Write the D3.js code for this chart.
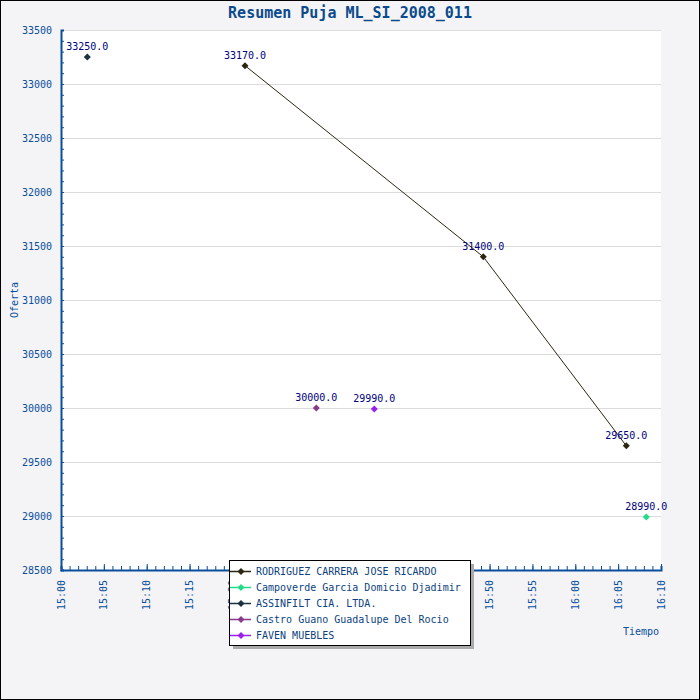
<!DOCTYPE html>
<html>
<head>
<meta charset="utf-8">
<script src="https://cdn.jsdelivr.net/npm/d3@7"></script>
<style>
html,body{margin:0;padding:0;background:#fff;}
svg{display:block;}
text{font-family:"DejaVu Sans Mono",monospace;}
</style>
</head>
<body>
<script>
// ---- data ----
const seriesNames = [
  "RODRIGUEZ CARRERA JOSE RICARDO",
  "Campoverde Garcia Domicio Djadimir",
  "ASSINFILT CIA. LTDA.",
  "Castro Guano Guadalupe Del Rocio",
  "FAVEN MUEBLES"
];
const seriesColors = ["#2b2610", "#22dd88", "#1b3340", "#8b3a8b", "#9b20f0"];
const rodriguezTimes = ["15:21:28", "15:49:16", "16:05:57"];
const rodriguezValues = [33170, 31400, 29650];
const campoverdeTimes = ["16:08:17"];
const campoverdeValues = [28990];
const assinfiltTimes = ["15:03:04"];
const assinfiltValues = [33250];
const castroTimes = ["15:29:47"];
const castroValues = [30000];
const favenTimes = ["15:36:33"];
const favenValues = [29990];
const xDomain = ["15:00:00", "16:10:00"];
const yDomain = [28500, 33500];
const title = "Resumen Puja ML_SI_2008_011";
const xTitle = "Tiempo";
const yTitle = "Oferta";

const parse = s => { const [h,m,sec] = s.split(":").map(Number); return new Date(Date.UTC(2008,0,1,h,m,sec)); };
const series = [
  {times: rodriguezTimes, values: rodriguezValues, line: true},
  {times: campoverdeTimes, values: campoverdeValues, line: false},
  {times: assinfiltTimes, values: assinfiltValues, line: false},
  {times: castroTimes, values: castroValues, line: false},
  {times: favenTimes, values: favenValues, line: false}
].map((s,i) => ({name: seriesNames[i], color: seriesColors[i], line: s.line,
  points: s.times.map((t,j) => ({t: parse(t), v: s.values[j]}))}));

// ---- layout ----
const W = 700, H = 700;
const L = 61, R = 661, T = 30, B = 570;
const axisColor = "#0a4f9c";

const svg = d3.select("body").append("svg").attr("width", W).attr("height", H);
svg.append("rect").attr("x",0.5).attr("y",0.5).attr("width",W-1).attr("height",H-1)
  .attr("fill","#f4f4f6").attr("stroke","#000");
svg.append("rect").attr("x",L).attr("y",T).attr("width",R-L).attr("height",B-T).attr("fill","#fff");

const x = d3.scaleUtc().domain(xDomain.map(parse)).range([L, R]);
const y = d3.scaleLinear().domain(yDomain).range([B, T]);

// gridlines
svg.append("g").selectAll("line").data(d3.range(29000, 33501, 500)).join("line")
  .attr("x1", L).attr("x2", R).attr("y1", d => y(d)+0.5).attr("y2", d => y(d)+0.5)
  .attr("stroke", "#dcdcdc").attr("stroke-width", 1);

// y axis
const yAxis = d3.axisRight(y).tickValues(d3.range(28500, 33501, 100)).tickSize(3).tickFormat("");
const gy = svg.append("g").attr("transform", `translate(${L},0)`).call(yAxis);
gy.selectAll("line").attr("stroke", axisColor);
gy.select(".domain").attr("stroke", axisColor).attr("stroke-width", 2);
const yLab = d3.axisLeft(y).tickValues(d3.range(28500, 33501, 500)).tickSize(0).tickPadding(9).tickFormat(d3.format("d"));
const gyl = svg.append("g").attr("transform", `translate(${L},0)`).call(yLab);
gyl.select(".domain").remove();
gyl.selectAll("text").attr("fill", axisColor).style("font-size","10px").style("font-family","'DejaVu Sans Mono',monospace");

// x axis
const minor = d3.utcMinute.every(1).range(x.domain()[0], new Date(+x.domain()[1]+1));
const xAxisMinor = d3.axisTop(x).tickValues(minor).tickSize(4).tickFormat("");
const gx = svg.append("g").attr("transform", `translate(0,${B})`).call(xAxisMinor);
gx.selectAll("line").attr("stroke", axisColor);
gx.select(".domain").attr("stroke", axisColor).attr("stroke-width", 2);
const major = d3.utcMinute.every(5).range(x.domain()[0], new Date(+x.domain()[1]+1));
const xAxisMajor = d3.axisTop(x).tickValues(major).tickSize(6).tickFormat("");
const gx2 = svg.append("g").attr("transform", `translate(0,${B})`).call(xAxisMajor);
gx2.selectAll("line").attr("stroke", axisColor);
gx2.select(".domain").remove();
const fmt = d3.utcFormat("%H:%M");
svg.append("g").selectAll("text").data(major).join("text")
  .attr("transform", d => `translate(${x(d)+3.5},${B+10}) rotate(-90)`)
  .attr("text-anchor","end").attr("fill", axisColor).style("font-size","10px")
  .text(d => fmt(d));

// axis titles
svg.append("text").attr("x", 659).attr("y", 635).attr("text-anchor","end")
  .attr("fill", axisColor).style("font-size","10px").text(xTitle);
svg.append("text").attr("transform", `translate(18,300) rotate(-90)`).attr("text-anchor","middle")
  .attr("fill", axisColor).style("font-size","10px").text(yTitle);

// title
svg.append("text").attr("x", 350).attr("y", 18).attr("text-anchor","middle")
  .attr("fill","#0b4a8c").style("font-size","15px").style("font-weight","bold").text(title);

// lines
const lineGen = d3.line().x(d => x(d.t)).y(d => y(d.v));
series.filter(s => s.line).forEach(s => {
  svg.append("path").datum(s.points).attr("d", lineGen).attr("fill","none")
    .attr("stroke", s.color).attr("stroke-width", 1);
});
const diamond = "M0,-3.5L3.5,0L0,3.5L-3.5,0Z";
series.forEach(s => {
  const g = svg.append("g");
  g.selectAll("path").data(s.points).join("path")
    .attr("transform", d => `translate(${x(d.t)},${y(d.v)})`).attr("d", diamond).attr("fill", s.color);
  g.selectAll("text").data(s.points).join("text")
    .attr("x", d => x(d.t)).attr("y", d => y(d.v) - 7).attr("text-anchor","middle")
    .attr("fill","#000080").style("font-size","10px").text(d => d3.format(".1f")(d.v));
});

// legend
const lg = svg.append("g");
lg.append("rect").attr("x", 233).attr("y", 564).attr("width", 241).attr("height", 85).attr("fill","#aaaaaa");
lg.append("rect").attr("x", 229.5).attr("y", 560.5).attr("width", 241).attr("height", 85).attr("fill","#fff").attr("stroke","#000");
const items = lg.selectAll("g.item").data(series).join("g").attr("class","item")
  .attr("transform", (d,i) => `translate(0,${571 + i*16})`);
items.append("line").attr("x1", 230).attr("x2", 251).attr("y1", 0.5).attr("y2", 0.5)
  .attr("stroke", d => d.color).attr("stroke-width", 1.5);
items.append("path").attr("transform","translate(241,0.5)").attr("d", diamond).attr("fill", d => d.color);
items.append("text").attr("x", 256).attr("y", 4).attr("fill", "#0b3f80").style("font-size","10px").text(d => d.name);
</script>
</body>
</html>
